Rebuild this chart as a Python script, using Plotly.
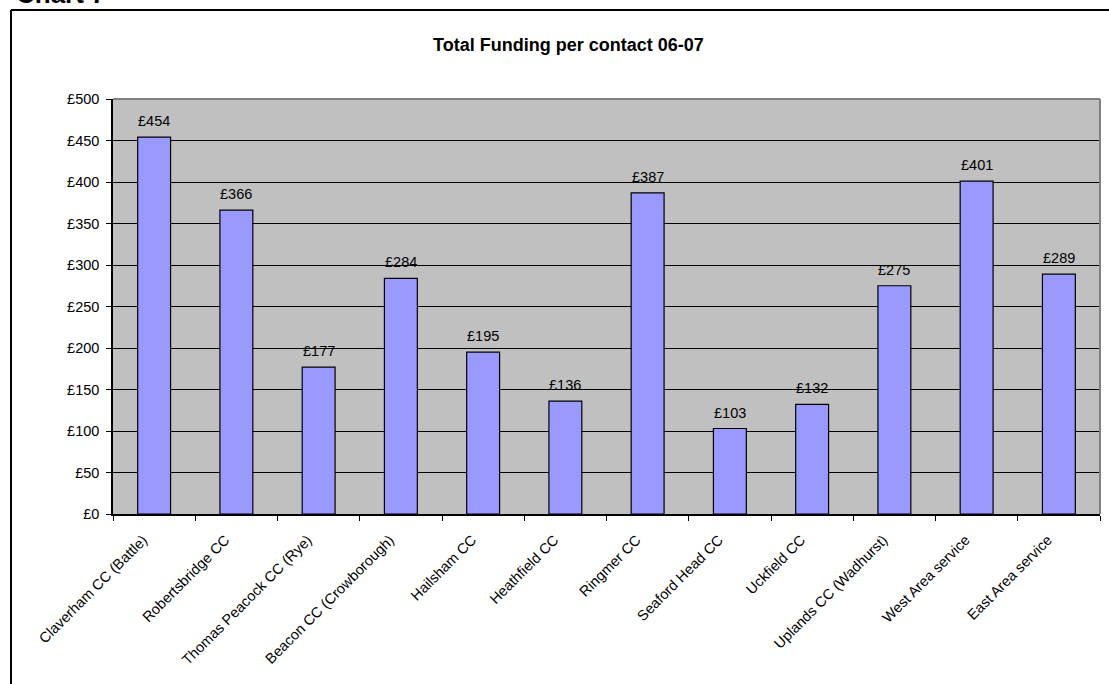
import plotly.graph_objects as go

# Funding per contact by centre, 2006-07
centres = [
    "Claverham CC (Battle)",
    "Robertsbridge CC",
    "Thomas Peacock CC (Rye)",
    "Beacon CC (Crowborough)",
    "Hailsham CC",
    "Heathfield CC",
    "Ringmer CC",
    "Seaford Head CC",
    "Uckfield CC",
    "Uplands CC (Wadhurst)",
    "West Area service",
    "East Area service",
]
funding = [454, 366, 177, 284, 195, 136, 387, 103, 132, 275, 401, 289]

y_ticks = list(range(0, 501, 50))
y_tick_labels = [f"£{v}" for v in y_ticks]

W, H = 1109, 684
L, R, T, B = 113, 9, 99, 170
pw, ph = W - L - R, H - T - B


def px_x(p):
    return (p - L) / pw


def px_y(p):
    return (H - B - p) / ph


FONT = "Liberation Sans, Arial, sans-serif"

fig = go.Figure(
    go.Bar(
        x=centres,
        y=funding,
        marker=dict(color="#9999FF", line=dict(color="#000000", width=1.2)),
        width=0.4,
    )
)

# value labels above each bar
value_labels = [
    dict(x=c, y=v, xref="x", yref="y", text=f"£{v}", showarrow=False,
         xanchor="center", yanchor="bottom", yshift=6,
         font=dict(family=FONT, size=14.5, color="#000000"))
    for c, v in zip(centres, funding)
]

fig.update_layout(
    width=W,
    height=H,
    margin=dict(l=L, r=R, t=T, b=B),
    paper_bgcolor="#FFFFFF",
    plot_bgcolor="#C0C0C0",
    showlegend=False,
    font=dict(family=FONT, size=14, color="#000000"),
    xaxis=dict(
        tickangle=-45,
        tickson="boundaries",
        ticks="outside",
        ticklen=5,
        tickcolor="#000000",
        showgrid=False,
        showline=True,
        linecolor="#000000",
        linewidth=1.5,
        ticklabelstandoff=10,
        ticklabelshift=-11,
        tickfont=dict(family=FONT, size=14.5, color="#000000"),
    ),
    yaxis=dict(
        range=[0, 500],
        tickvals=y_ticks,
        ticktext=y_tick_labels,
        ticks="outside",
        ticklen=5,
        tickcolor="#000000",
        showgrid=True,
        gridcolor="#000000",
        gridwidth=1,
        zeroline=False,
        showline=True,
        linecolor="#000000",
        linewidth=1.5,
        ticklabelstandoff=4,
        tickfont=dict(family=FONT, size=14.5, color="#000000"),
    ),
    shapes=[
        # plot-area frame (top and right edges)
        dict(type="line", xref="paper", yref="paper", x0=0, x1=1, y0=1, y1=1,
             line=dict(color="#808080", width=2), layer="above"),
        dict(type="line", xref="paper", yref="paper", x0=1, x1=1, y0=0, y1=1,
             line=dict(color="#808080", width=2), layer="above"),
        # outer chart frame
        dict(type="line", xref="paper", yref="paper",
             x0=px_x(11), x1=px_x(1115), y0=px_y(10), y1=px_y(10),
             line=dict(color="#000000", width=2), layer="above"),
        dict(type="line", xref="paper", yref="paper",
             x0=px_x(11), x1=px_x(11), y0=px_y(10), y1=px_y(690),
             line=dict(color="#000000", width=2), layer="above"),
    ],
    annotations=value_labels + [
        dict(text="<b>Total Funding per contact 06-07</b>", xref="paper", yref="paper",
             x=px_x(568), y=px_y(45), xanchor="center", yanchor="middle",
             showarrow=False, font=dict(family=FONT, size=18, color="#000000")),
        dict(text="<b>Chart 7</b>", xref="paper", yref="paper",
             x=px_x(14), y=px_y(11), xanchor="left", yanchor="bottom",
             showarrow=False, font=dict(family=FONT, size=26, color="#000000")),
    ],
)

fig.write_html("out.html")
